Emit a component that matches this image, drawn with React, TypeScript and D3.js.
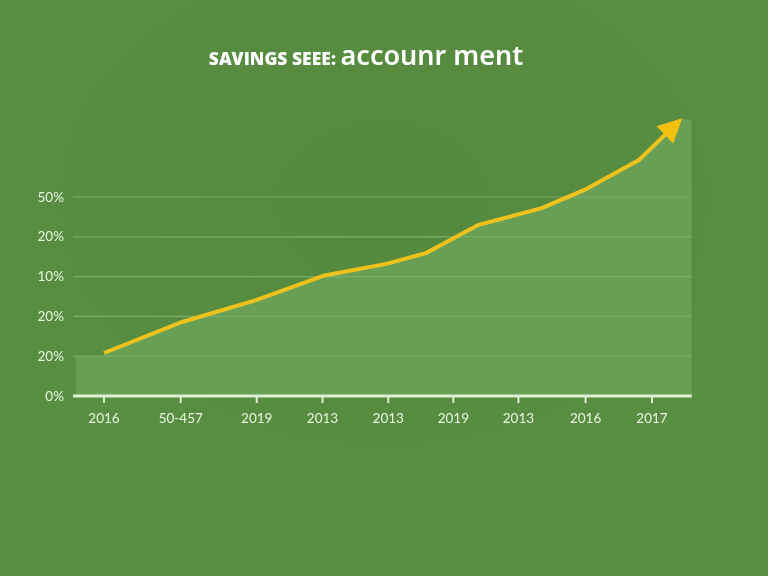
import * as d3 from 'd3'

// x positions in "tick units"; y in grid-step units
const tickLabels = ['2016', '50-457', '2019', '2013', '2013', '2019', '2013', '2016', '2017']
const tickAt = [0, 1.12, 2.23, 3.19, 4.15, 5.1, 6.05, 7.03, 8]
const yTickLabels = ['0%', '20%', '20%', '10%', '20%', '50%']
const lineX = [0, 1.14, 2.22, 3.2, 4.12, 4.7, 5.47, 6.39, 7.04, 7.81, 8.44]
const lineY = [1.08, 1.86, 2.41, 3.02, 3.32, 3.59, 4.3, 4.72, 5.2, 5.93, 6.98]
const areaStart = { x: -0.41, y: 1 }
const areaEnd = { x: 8.58, y: 6.93 }

const W = 768
const H = 576

export default function App() {
  const x = d3.scaleLinear().domain([0, 8]).range([104, 652])
  const y = d3.scaleLinear().domain([0, 5]).range([396, 197])

  const pts: [number, number][] = lineX.map((v, i) => [v, lineY[i]])

  // shaded region: flat step on the left, then under the line, then up to the right edge
  const areaPath =
    `M${x(areaStart.x)},${y(0)}L${x(areaStart.x)},${y(areaStart.y)}L${x(pts[0][0])},${y(areaStart.y)}` +
    pts.map((p) => `L${x(p[0])},${y(p[1])}`).join('') +
    `L${x(areaEnd.x)},${y(areaEnd.y)}L${x(areaEnd.x)},${y(0)}Z`

  // arrowhead from last segment
  const [ax, ay] = [x(pts[pts.length - 1][0]), y(pts[pts.length - 1][1])]
  const [bx, by] = [x(pts[pts.length - 2][0]), y(pts[pts.length - 2][1])]
  const ang = Math.atan2(ay - by, ax - bx)
  const headLen = 24
  const headW = 12
  const baseX = ax - headLen * Math.cos(ang)
  const baseY = ay - headLen * Math.sin(ang)
  const px = -Math.sin(ang)
  const py = Math.cos(ang)
  const head = `M${ax},${ay}L${baseX + px * headW},${baseY + py * headW}L${baseX - px * headW},${baseY - py * headW}Z`
  const linePts: [number, number][] = [
    ...pts.slice(0, -1).map((p) => [x(p[0]), y(p[1])] as [number, number]),
    [baseX + 4 * Math.cos(ang), baseY + 4 * Math.sin(ang)],
  ]
  const line = d3.line()(linePts) ?? ''

  const font = 'Lato, "Open Sans", sans-serif'

  return (
    <svg width={W} height={H} style={{ position: 'fixed', left: 0, top: 0 }}>
      <defs>
        <radialGradient id="bg" cx="0.5" cy="0.35" r="0.75">
          <stop offset="0%" stopColor="#558a3e" />
          <stop offset="100%" stopColor="#5a9044" />
        </radialGradient>
      </defs>
      <rect width={W} height={H} fill="url(#bg)" />
      <path d={areaPath} fill="#67a055" />
      {yTickLabels.slice(1).map((_, i) => (
        <line key={i} x1={73} x2={x(areaEnd.x)} y1={y(i + 1)} y2={y(i + 1)} stroke="#7aae68" strokeWidth={1.2} />
      ))}
      <line x1={73} x2={x(areaEnd.x)} y1={y(0)} y2={y(0)} stroke="#dff0d2" strokeWidth={3} />
      {tickAt.map((t, i) => (
        <g key={i}>
          <line x1={x(t)} x2={x(t)} y1={y(0)} y2={y(0) + 7} stroke="#dff0d2" strokeWidth={2} />
          <text x={x(t)} y={423} textAnchor="middle" fontFamily={font} fontSize={13.5} fill="#eaf5e2">
            {tickLabels[i]}
          </text>
        </g>
      ))}
      {yTickLabels.map((l, i) => (
        <text key={i} x={64} y={y(i) + 4.5} textAnchor="end" fontFamily={font} fontSize={13.5} fill="#eaf5e2">
          {l}
        </text>
      ))}
      <path d={line} fill="none" stroke="#eec21c" strokeWidth={4} strokeLinejoin="round" />
      <path d={head} fill="#f4c010" />
      <text x={366} y={65} textAnchor="middle" fill="#ffffff" fontFamily={font}>
        <tspan fontSize={17.5} fontWeight={800} fontFamily='"Open Sans", sans-serif'>SAVINGS SEEE: </tspan>
        <tspan fontSize={27} fontWeight={600} fontFamily='"Noto Sans", sans-serif'>accounr ment</tspan>
      </text>
    </svg>
  )
}
